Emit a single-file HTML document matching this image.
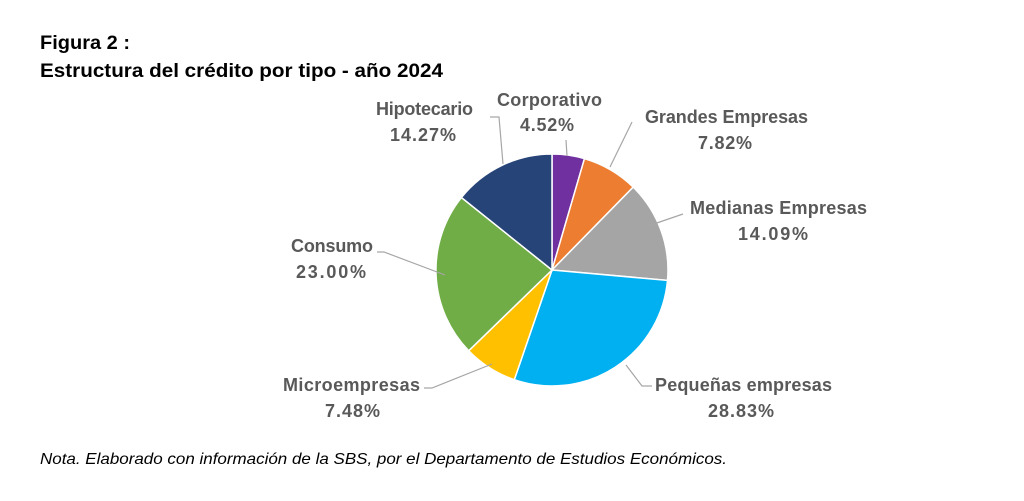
<!DOCTYPE html>
<html><head><meta charset="utf-8"><style>
body{margin:0;background:#fff;width:1024px;height:496px;overflow:hidden}
</style></head><body>
<svg width="1024" height="496" xmlns="http://www.w3.org/2000/svg" font-family="Liberation Sans, sans-serif">
<text x="40" y="49" font-size="19" font-weight="bold" fill="#000" textLength="90" lengthAdjust="spacingAndGlyphs">Figura 2 :</text>
<text x="40" y="77" font-size="19" font-weight="bold" fill="#000" textLength="403" lengthAdjust="spacingAndGlyphs">Estructura del crédito por tipo - año 2024</text>
<g stroke="#fff" stroke-width="1.5">
<path d="M552,270 L552,154 A116,116 0 0 1 584.5,158.6 Z" fill="#7030A0"/>
<path d="M552,270 L584.5,158.6 A116,116 0 0 1 633.2,187.1 Z" fill="#ED7D31"/>
<path d="M552,270 L633.2,187.1 A116,116 0 0 1 667.5,280.4 Z" fill="#A5A5A5"/>
<path d="M552,270 L667.5,280.4 A116,116 0 0 1 514.3,379.7 Z" fill="#00B0F0"/>
<path d="M552,270 L514.3,379.7 A116,116 0 0 1 468.7,350.8 Z" fill="#FFC000"/>
<path d="M552,270 L468.7,350.8 A116,116 0 0 1 461.4,197.5 Z" fill="#70AD47"/>
<path d="M552,270 L461.4,197.5 A116,116 0 0 1 552,154 Z" fill="#264478"/>
</g>
<g stroke="#A6A6A6" stroke-width="1.2" fill="none">
<polyline points="566,140 567,156"/>
<polyline points="632,122 610,167"/>
<polyline points="683,214 648,226"/>
<polyline points="626,365 642,386 652,386"/>
<polyline points="424,388 432,388 492,364"/>
<polyline points="377,252 384,252 445,275"/>
<polyline points="490,117 499,117 503,164"/>
</g>
<g font-size="18" font-weight="bold" fill="#595959" lengthAdjust="spacingAndGlyphs">
<text x="497" y="106" textLength="105">Corporativo</text><text x="520" y="131" textLength="54">4.52%</text>
<text x="645" y="123" textLength="163">Grandes Empresas</text><text x="698" y="149" textLength="54">7.82%</text>
<text x="690" y="214" textLength="177">Medianas Empresas</text><text x="738" y="240" textLength="70">14.09%</text>
<text x="655" y="391" textLength="177">Pequeñas empresas</text><text x="708" y="417" textLength="66">28.83%</text>
<text x="283" y="391" textLength="137">Microempresas</text><text x="325" y="417" textLength="55">7.48%</text>
<text x="291" y="252" textLength="82">Consumo</text><text x="296" y="278" textLength="70">23.00%</text>
<text x="376" y="115" textLength="97">Hipotecario</text><text x="390" y="141" textLength="66">14.27%</text>
</g>
<text x="40" y="464" font-size="16" font-style="italic" fill="#000" textLength="687" lengthAdjust="spacingAndGlyphs">Nota. Elaborado con información de la SBS, por el Departamento de Estudios Económicos.</text>
</svg>
</body></html>
